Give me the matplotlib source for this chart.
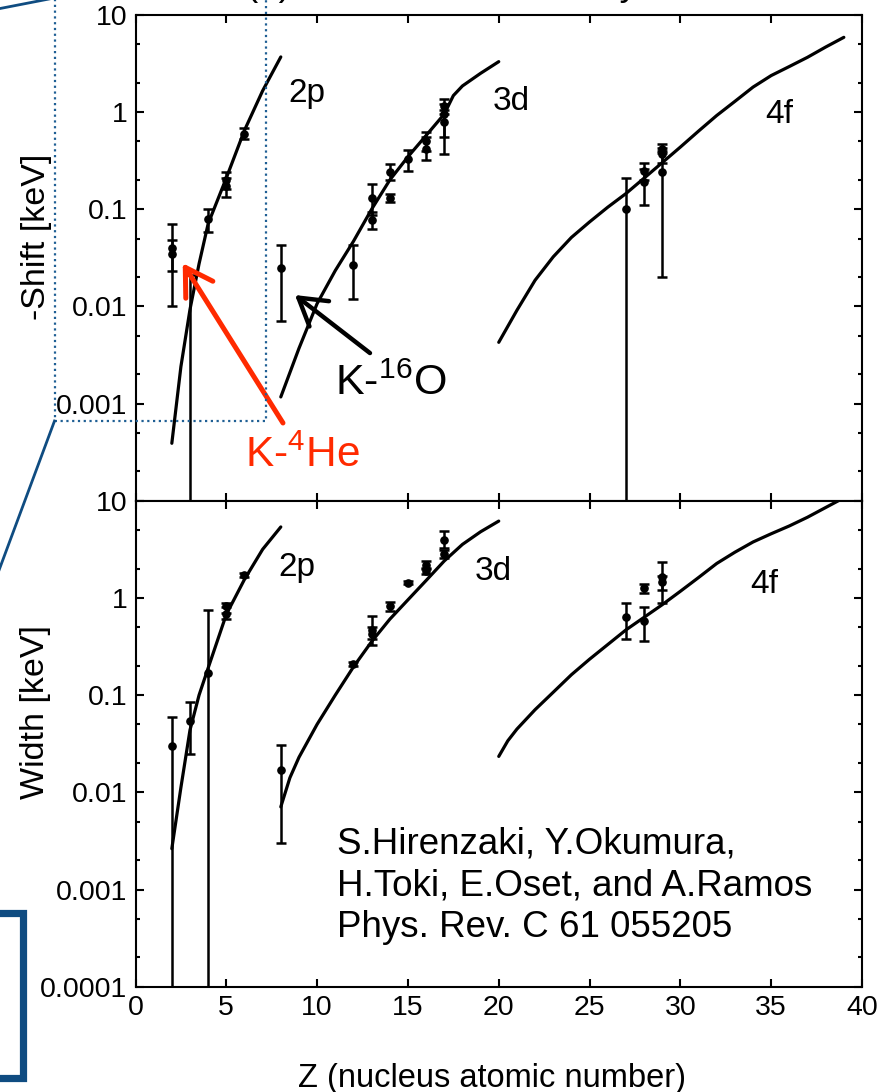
import numpy as np
import matplotlib
matplotlib.use("Agg")
import matplotlib.pyplot as plt
from matplotlib.lines import Line2D
from matplotlib.ticker import FixedLocator, LogLocator, NullFormatter

plt.rcParams['font.family'] = ['Liberation Sans', 'DejaVu Sans']
plt.rcParams['mathtext.fontset'] = 'custom'
plt.rcParams['mathtext.rm'] = 'Liberation Sans'

# ---------------- theory curves (keV) ----------------
shift_2p_z = [2, 2.5, 3, 3.5, 4, 5, 6, 7, 8]
shift_2p_v = [0.00039, 0.0024, 0.0093, 0.0275, 0.071, 0.21, 0.65, 1.66, 3.7]

shift_3d_z = [8, 9, 10, 11, 12, 13, 14, 15, 16, 17, 17.5, 18, 19, 20]
shift_3d_v = [0.00117, 0.0037, 0.0107, 0.0234, 0.0468, 0.10, 0.20, 0.347,
              0.575, 0.955, 1.48, 1.86, 2.51, 3.31]

shift_4f_z = list(range(20, 40))
shift_4f_v = [0.00427, 0.00912, 0.0186, 0.0324, 0.0513, 0.0741, 0.105, 0.145,
              0.209, 0.302, 0.437, 0.638, 0.923, 1.29, 1.81, 2.38, 2.95, 3.67,
              4.68, 5.89]

width_2p_z = [2, 2.5, 3, 3.5, 4, 5, 6, 7, 8]
width_2p_v = [0.00263, 0.0112, 0.0437, 0.10, 0.19, 0.676, 1.55, 3.16, 5.37]

width_3d_z = [8, 8.5, 9, 10, 11, 12, 13, 14, 15, 16, 17, 18, 19, 20]
width_3d_v = [0.00708, 0.0141, 0.0229, 0.0501, 0.10, 0.195, 0.355, 0.603,
              0.955, 1.51, 2.40, 3.55, 4.79, 6.17]

width_4f_z = [20, 20.5, 21, 22, 23, 24, 25, 26, 27, 28, 29, 30, 31, 32, 33,
              34, 35, 36, 37, 38, 39]
width_4f_v = [0.0234, 0.0339, 0.0447, 0.0708, 0.107, 0.162, 0.234, 0.331,
              0.468, 0.631, 0.851, 1.17, 1.62, 2.26, 2.95, 3.76, 4.57, 5.50,
              6.76, 8.51, 10.7]

# ---------------- measured data (keV) ----------------
shift_z = [2, 2, 4, 5, 5, 6, 8, 12, 13, 13, 14, 14, 15, 16, 16, 17, 17, 17,
           27, 28, 28, 29, 29, 29]
shift_v = [0.040, 0.035, 0.080, 0.20, 0.175, 0.60, 0.025, 0.027, 0.13, 0.078,
           0.24, 0.13, 0.33, 0.50, 0.42, 1.15, 0.95, 0.80, 0.10, 0.25, 0.19,
           0.42, 0.37, 0.24]
shift_lo = [0.010, 0.023, 0.059, 0.16, 0.135, 0.525, 0.007, 0.012, 0.087,
            0.063, 0.20, 0.12, 0.25, 0.40, 0.32, 0.95, 0.55, 0.37, 1e-6, 0.20,
            0.11, 0.38, 0.30, 0.02]
shift_hi = [0.071, 0.048, 0.10, 0.24, 0.21, 0.68, 0.043, 0.043, 0.184, 0.093,
            0.29, 0.145, 0.41, 0.63, 0.55, 1.35, 1.20, 1.05, 0.21, 0.30, 0.26,
            0.47, 0.43, 0.40]
# upper limit only (central value off scale)
shift_lim_z = [3]
shift_lim_hi = [0.021]

width_z = [2, 3, 4, 5, 5, 6, 8, 12, 13, 13, 14, 15, 16, 16, 17, 17, 27, 28,
           28, 29, 29]
width_v = [0.030, 0.054, 0.17, 0.82, 0.68, 1.73, 0.017, 0.21, 0.47, 0.43,
           0.82, 1.44, 2.2, 1.9, 3.9, 2.86, 0.64, 0.58, 1.25, 1.65, 1.45]
width_lo = [1e-6, 0.025, 1e-6, 0.70, 0.61, 1.65, 0.003, 0.20, 0.33, 0.38,
            0.73, 1.38, 2.0, 1.75, 3.3, 2.6, 0.38, 0.36, 1.12, 0.88, 1.2]
width_hi = [0.059, 0.084, 0.745, 0.88, 0.80, 1.80, 0.031, 0.22, 0.65, 0.50,
            0.90, 1.50, 2.4, 2.05, 4.9, 3.1, 0.88, 0.80, 1.38, 2.35, 1.7]

y_ticks = [1e-4, 1e-3, 1e-2, 1e-1, 1, 10]
y_labels_top = ['', '0.001', '0.01', '0.1', '1', '10']
y_labels_bot = ['0.0001', '0.001', '0.01', '0.1', '1', '10']
x_ticks = [0, 5, 10, 15, 20, 25, 30, 35, 40]

# ---------------- figure ----------------
W, H = 894, 1092
fig = plt.figure(figsize=(W / 100, H / 100), dpi=100)


def fx(px):
    return px / W


def fy(py):
    return 1 - py / H


L, R = 135.5, 862.0
ax_top = fig.add_axes([fx(L), fy(500.7), fx(R) - fx(L), fy(15) - fy(500.7)])
ax_bot = fig.add_axes([fx(L), fy(986.7), fx(R) - fx(L), fy(500.7) - fy(986.7)])

for ax in (ax_top, ax_bot):
    ax.set_yscale('log')
    ax.set_xlim(0, 40)
    ax.set_ylim(1e-4, 10)
    ax.xaxis.set_major_locator(FixedLocator(x_ticks))
    ax.yaxis.set_major_locator(FixedLocator(y_ticks))
    ax.yaxis.set_minor_locator(LogLocator(base=10, subs=(2.0, 5.0), numticks=20))
    ax.yaxis.set_minor_formatter(NullFormatter())
    ax.tick_params(which='both', direction='in', top=True, right=True,
                   width=1.5, labelsize=20.5, pad=6)
    ax.tick_params(which='major', length=5.8)
    ax.tick_params(which='minor', length=2.9)
    for s in ax.spines.values():
        s.set_linewidth(1.5)

ax_top.set_yticklabels(y_labels_top)
ax_top.tick_params(labelbottom=False)
ax_bot.set_yticklabels(y_labels_bot)
ax_bot.set_xticklabels([str(t) for t in x_ticks])

curve_kw = dict(color='black', lw=2.3, solid_capstyle='round',
                solid_joinstyle='round', zorder=2)
for z, v in ((shift_2p_z, shift_2p_v), (shift_3d_z, shift_3d_v), (shift_4f_z, shift_4f_v)):
    ax_top.plot(z, v, **curve_kw)
for z, v in ((width_2p_z, width_2p_v), (width_3d_z, width_3d_v), (width_4f_z, width_4f_v)):
    ax_bot.plot(z, v, **curve_kw)

err_kw = dict(color='black', ecolor='black', elinewidth=1.8, capsize=3.8,
              capthick=1.8, zorder=3)


def draw_points(ax, z, v, lo, hi):
    z, v, lo, hi = map(np.asarray, (z, v, lo, hi))
    ax.errorbar(z, v, yerr=[v - lo, hi - v], fmt='o', ms=5.2, **err_kw)


draw_points(ax_top, shift_z, shift_v, shift_lo, shift_hi)
draw_points(ax_bot, width_z, width_v, width_lo, width_hi)
lim_hi = np.asarray(shift_lim_hi)
ax_top.errorbar(shift_lim_z, lim_hi, yerr=[lim_hi - 1e-6, np.zeros_like(lim_hi)],
                fmt='none', **err_kw)

# orbit labels
lab_kw = dict(fontsize=24, ha='left', va='baseline')
ax_top.text(8.40, 1.27, '2p', **lab_kw)
ax_top.text(19.68, 1.05, '3d', **lab_kw)
ax_top.text(34.66, 0.773, '4f', **lab_kw)
ax_bot.text(7.85, 1.67, '2p', **lab_kw)
ax_bot.text(18.69, 1.52, '3d', **lab_kw)
ax_bot.text(33.83, 1.13, '4f', **lab_kw)

# highlighted systems
red = '#ff2a00'
arrow_style = '->,head_length=1.9,head_width=1.15'
ax_top.annotate('', xy=(2.60, 0.0278), xytext=(8.12, 6.31e-4),
                arrowprops=dict(arrowstyle=arrow_style, color=red, lw=3.6,
                                shrinkA=0, shrinkB=0, mutation_scale=10),
                zorder=5)
ax_top.annotate('', xy=(8.78, 0.0131), xytext=(12.91, 0.00331),
                arrowprops=dict(arrowstyle=arrow_style, color='black', lw=3.2,
                                shrinkA=0, shrinkB=0, mutation_scale=10),
                zorder=5)
ax_top.text(10.98, 0.001225, r'K-$\mathregular{^{16}}$O', fontsize=31,
            ha='left', va='baseline', zorder=6)
ax_top.text(6.03, 2.22e-4, r'K-$\mathregular{^{4}}$He', fontsize=30.5, color=red,
            ha='left', va='baseline', zorder=6)

# reference
ref_lines = ['S.Hirenzaki, Y.Okumura,', 'H.Toki, E.Oset, and A.Ramos',
             'Phys. Rev. C 61 055205']
for line, base in zip(ref_lines, (854, 896, 937)):
    fig.text(fx(337), fy(base), line, fontsize=26.5, ha='left', va='baseline')

# axis titles
fig.text(fx(37), fy(237), '-Shift [keV]', fontsize=24.5, rotation=90,
         ha='center', va='center')
fig.text(fx(36), fy(712), 'Width [keV]', fontsize=24.5, rotation=90,
         ha='center', va='center')
fig.text(fx(491.5), fy(1078), 'Z (nucleus atomic number)', fontsize=23.5,
         ha='center', va='center')

# slide heading, mostly above the visible area
fig.text(fx(246), fy(-5), '(b) Kaonic atom level systematics', fontsize=26.5,
         ha='left', va='baseline')

# zoom frame and connector lines
blue = '#0f4c81'
dot_blue = '#1f5f94'


def fig_line(xs, ys, **kw):
    fig.add_artist(Line2D([fx(x) for x in xs], [fy(y) for y in ys],
                          transform=fig.transFigure, **kw))


fig_line([54.5, 54.5, 265.5, 265.5], [-20, 421, 421, -20], color=dot_blue,
         lw=1.6, linestyle=(0, (1, 1.6)), zorder=4)
fig_line([-2, 50], [8.9, -1.2], color=blue, lw=2.0, zorder=4)
fig_line([54.5, -5], [421, 581], color=blue, lw=2.0, zorder=4)
fig_line([-5, 23, 23, -5], [913, 913, 1078, 1078], color=blue, lw=5.2,
         solid_joinstyle='miter', zorder=4)

fig.savefig('out.png', dpi=100)
